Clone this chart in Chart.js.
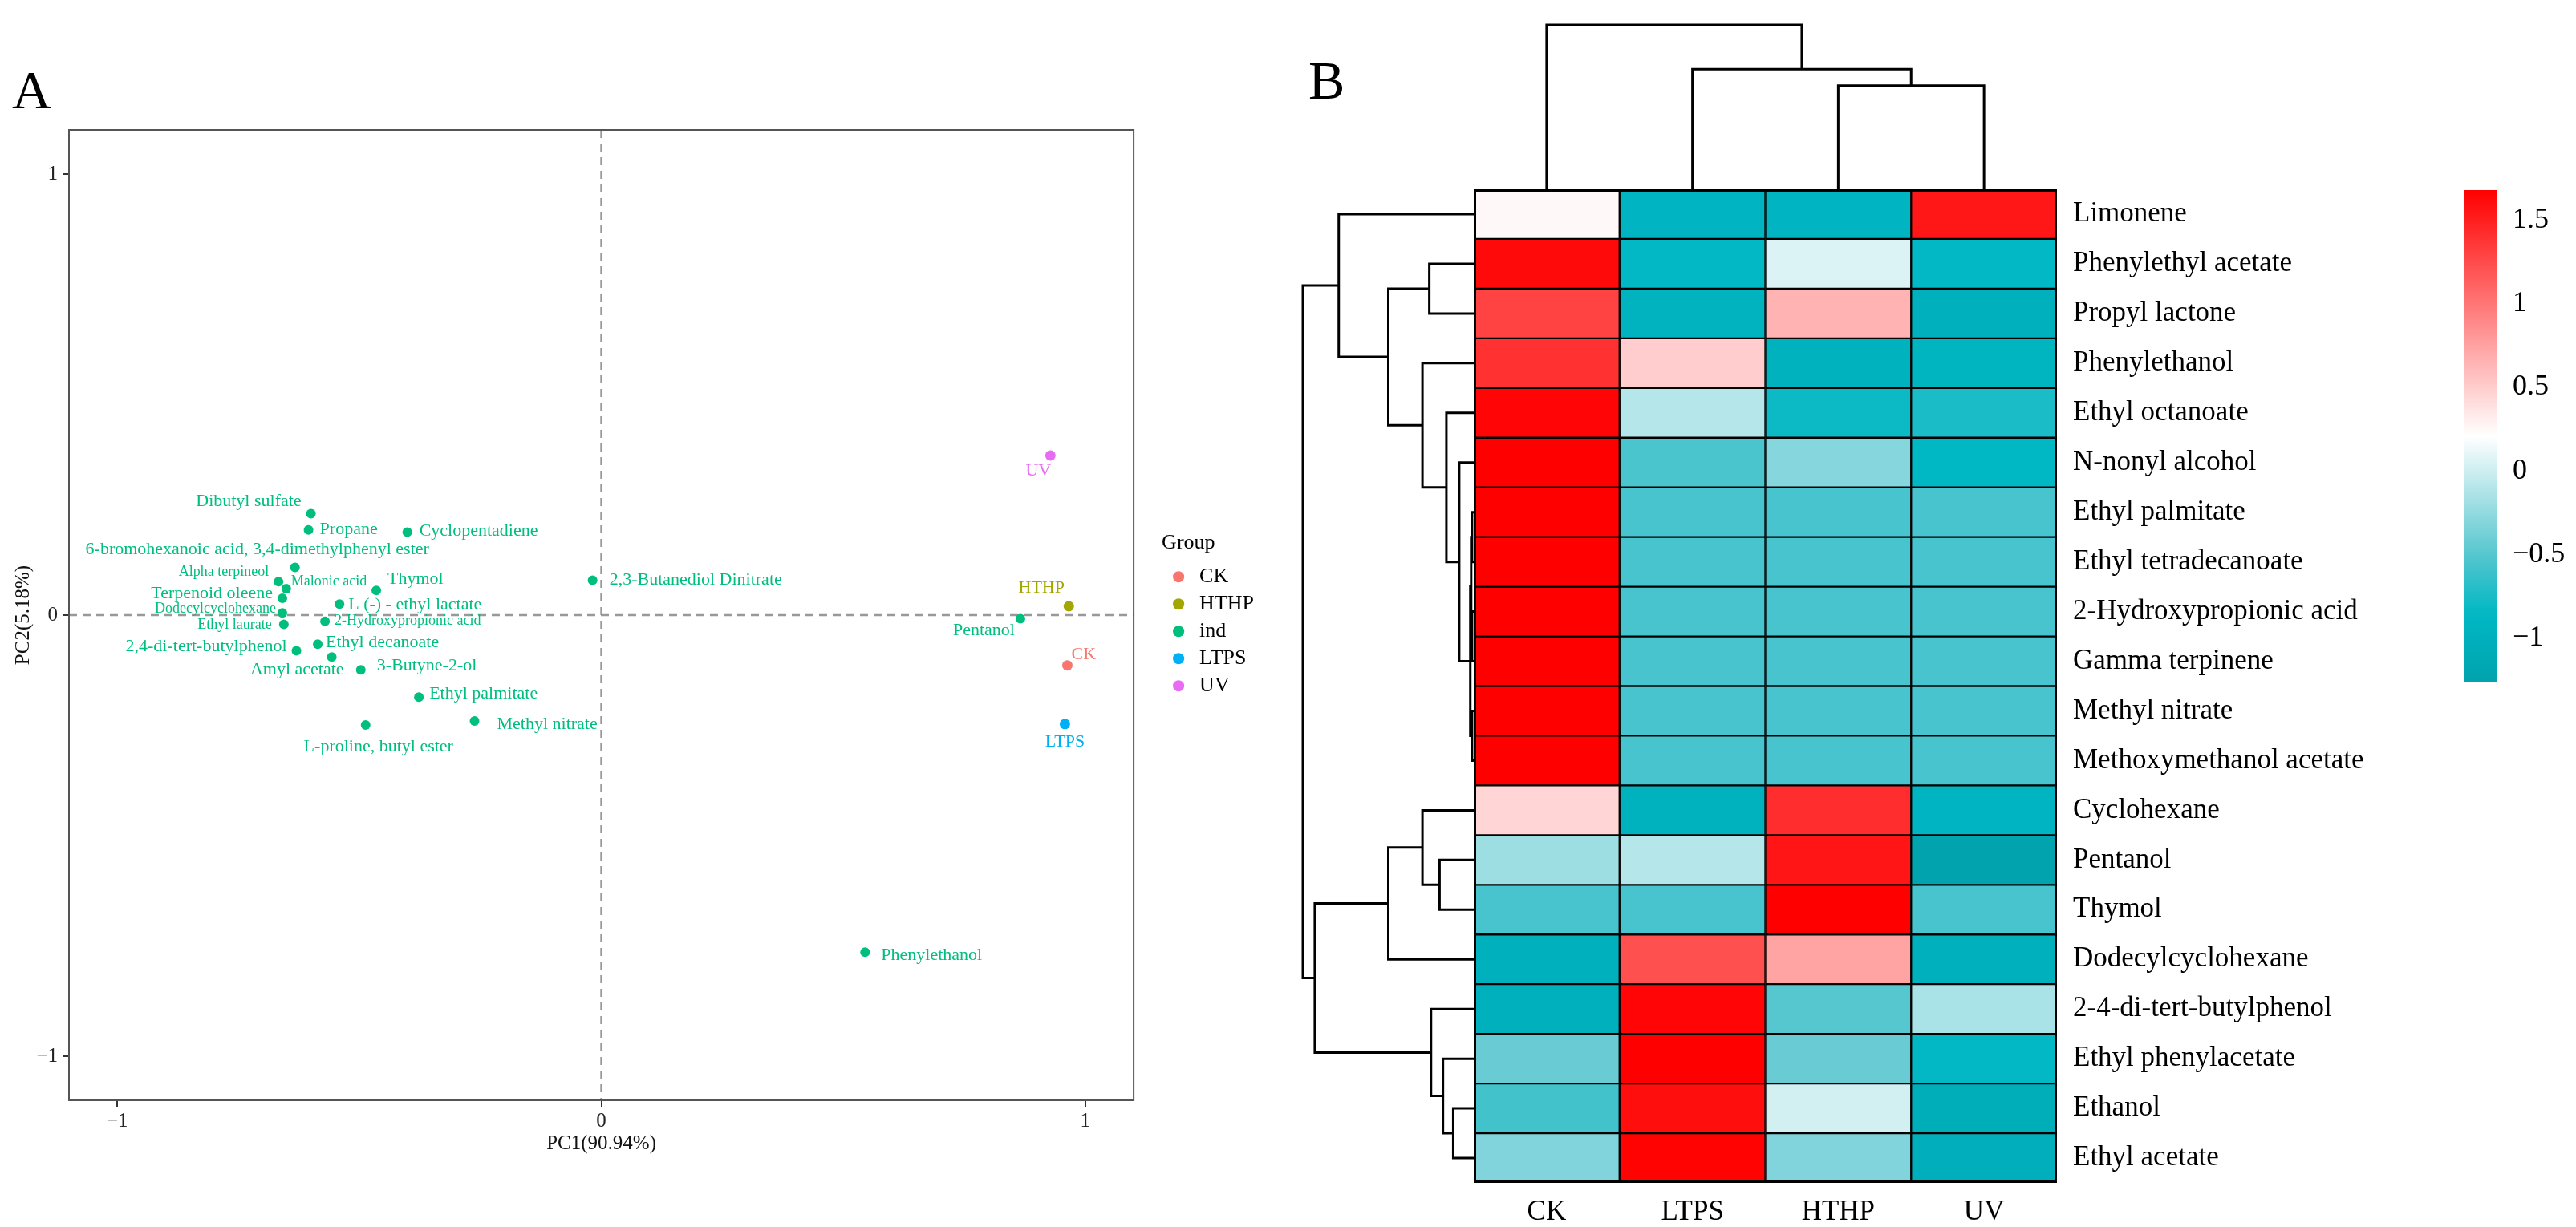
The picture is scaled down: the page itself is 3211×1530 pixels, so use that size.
<!DOCTYPE html>
<html>
<head>
<meta charset="utf-8">
<script src="https://cdn.jsdelivr.net/npm/chart.js@4.4.1/dist/chart.umd.min.js"></script>
<style>
  body { margin: 0; background: #fff; width: 3211px; height: 1530px; position: relative; overflow: hidden;
         font-family: 'Liberation Serif', 'Times New Roman', serif; }
  canvas { position: absolute; }
  .tag { position: absolute; font-size: 68px; line-height: 68px; color: #000; }
</style>
</head>
<body>
<div class="tag" style="left:15px; top:78px;">A</div>
<div class="tag" style="left:1631px; top:66px;">B</div>
<canvas id="pca" width="1600" height="1530" style="left:0; top:0;"></canvas>
<canvas id="rowDendro" width="223" height="1239" style="left:1614px; top:236px;"></canvas>
<canvas id="colDendro" width="727" height="215" style="left:1837px; top:21px;"></canvas>
<canvas id="heat" width="1127" height="1339" style="left:1837px; top:191px;"></canvas>
<canvas id="scaleBar" width="140" height="703" style="left:3072px; top:192px;"></canvas>
<script>
const serif = "'Liberation Serif', 'Times New Roman', serif";

// ---------- panel A : PCA ----------
const indNames = ['Dibutyl sulfate', 'Propane', 'Cyclopentadiene', '6-bromohexanoic acid, 3,4-dimethylphenyl ester',
  'Alpha terpineol', 'Malonic acid', 'Terpenoid oleene', 'Dodecylcyclohexane', 'Ethyl laurate', 'Thymol',
  'L (-) - ethyl lactate', '2-Hydroxypropionic acid', 'Ethyl decanoate', '2,4-di-tert-butylphenol', 'Amyl acetate',
  '3-Butyne-2-ol', 'Ethyl palmitate', 'L-proline, butyl ester', 'Methyl nitrate', '2,3-Butanediol Dinitrate',
  'Pentanol', 'Phenylethanol'];
const indPC1 = [-0.600, -0.605, -0.401, -0.633, -0.667, -0.651, -0.659, -0.659, -0.656, -0.465,
  -0.541, -0.571, -0.586, -0.630, -0.557, -0.497, -0.377, -0.487, -0.262, -0.018, 0.866, 0.545];
const indPC2 = [0.230, 0.193, 0.188, 0.108, 0.076, 0.060, 0.038, 0.005, -0.021, 0.056,
  0.025, -0.014, -0.066, -0.081, -0.095, -0.124, -0.186, -0.249, -0.240, 0.079, -0.008, -0.764];
const groupNames = ['CK', 'HTHP', 'LTPS', 'UV'];
const groupPC1 = [0.963, 0.966, 0.958, 0.928];
const groupPC2 = [-0.114, 0.020, -0.247, 0.362];
const pcaTicks = [-1, 0, 1];

// ---------- panel B : heatmap ----------
const rowNames = ['Limonene', 'Phenylethyl acetate', 'Propyl lactone', 'Phenylethanol', 'Ethyl octanoate',
  'N-nonyl alcohol', 'Ethyl palmitate', 'Ethyl tetradecanoate', '2-Hydroxypropionic acid', 'Gamma terpinene',
  'Methyl nitrate', 'Methoxymethanol acetate', 'Cyclohexane', 'Pentanol', 'Thymol', 'Dodecylcyclohexane',
  '2-4-di-tert-butylphenol', 'Ethyl phenylacetate', 'Ethanol', 'Ethyl acetate'];
const colNames = ['CK', 'LTPS', 'HTHP', 'UV'];
const zCK   = [0.25, 1.62, 1.30, 1.40, 1.65, 1.70, 1.68, 1.68, 1.68, 1.68, 1.68, 1.68, 0.45, -0.20, -0.56, -0.98, -1.00, -0.42, -0.58, -0.32];
const zLTPS = [-0.90, -0.84, -0.95, 0.50, -0.10, -0.55, -0.56, -0.56, -0.56, -0.56, -0.56, -0.56, -0.97, -0.10, -0.56, 1.22, 1.65, 1.68, 1.60, 1.66];
const zHTHP = [-0.90, 0.06, 0.65, -0.97, -0.80, -0.30, -0.56, -0.56, -0.56, -0.56, -0.56, -0.56, 1.42, 1.56, 1.68, 0.74, -0.50, -0.42, 0.02, -0.32];
const zUV   = [1.55, -0.84, -1.00, -0.93, -0.75, -0.85, -0.56, -0.56, -0.56, -0.56, -0.56, -0.56, -0.90, -1.26, -0.56, -0.98, -0.15, -0.84, -1.04, -1.02];
const scaleTicks = [-1, -0.5, 0, 0.5, 1, 1.5];
const zLow = -1.26, zHigh = 1.68;
// dendrograms: [left, right, height], leaves are row / column indices
const rowTree = [
  [0, [[1, 2, 0.26], [3, [4, [5, [[[6, 7, 0.01], [8, 9, 0.01], 0.015], [10, 11, 0.01], 0.02], 0.085], 0.16], 0.30], 0.50], 0.79],
  [[[12, [13, 14, 0.20], 0.30], 15, 0.5], [16, [17, [18, 19, 0.12], 0.18], 0.25], 0.93],
  1.0];
const colTree = [0, [1, [2, 3, 0.63], 0.73], 1.0];

// colour ramp of the key (value stops and rgb)
const rampStops = [-1.26, -0.85, -0.5, 0.21, 1.68];
const rampRGB = [[0, 163, 174], [0, 184, 196], [86, 198, 207], [255, 255, 255], [255, 0, 0]];

// label placement, px from the point
const indLabelDx = [-12, 14, 15, -47, -12, 6, -12, -8, -15, 14, 11, 12, 10, -12, 15, 20, 13, 16, 28, 21, -7, 20];
const indLabelDy = [-15, -1, -1, -22, -12, -9, -6, -5, 1, -14, 1, 0, -2, -5, 16, -5, -4, 27, 4, 0, 15, 4];
const indLabelAlign = ['right', 'left', 'left', 'center', 'right', 'left', 'right', 'right', 'right', 'left', 'left',
  'left', 'left', 'right', 'right', 'left', 'left', 'center', 'left', 'left', 'right', 'left'];
const indLabelSize = [22, 22, 22, 22, 18, 18, 22, 18, 18, 22, 22, 18, 22, 22, 22, 22, 22, 22, 22, 22, 22, 22];
const groupLabelDx = [5, -34, 0, -15];
const groupLabelDy = [-13, -23, 22, 19];
const groupLabelAlign = ['left', 'center', 'center', 'center'];

const colors = { CK: '#F8766D', HTHP: '#A3A500', ind: '#00BF7D', LTPS: '#00B0F6', UV: '#E76BF3' };

function groupSet(name) {
  const i = groupNames.indexOf(name);
  return {
    label: name, data: [{ x: groupPC1[i], y: groupPC2[i] }], names: [name],
    dx: [groupLabelDx[i]], dy: [groupLabelDy[i]], align: [groupLabelAlign[i]], size: [22],
    backgroundColor: colors[name], borderWidth: 0, pointRadius: 6.5
  };
}

const indSet = {
  label: 'ind', data: indPC1.map((x, i) => ({ x, y: indPC2[i] })), names: indNames,
  dx: indLabelDx, dy: indLabelDy, align: indLabelAlign, size: indLabelSize,
  backgroundColor: colors.ind, borderWidth: 0, pointRadius: 6
};

const pointLabels = {
  id: 'pointLabels',
  afterDatasetsDraw(chart) {
    const ctx = chart.ctx;
    chart.data.datasets.forEach((ds, di) => {
      chart.getDatasetMeta(di).data.forEach((pt, i) => {
        ctx.save();
        ctx.font = ds.size[i] + 'px ' + serif;
        ctx.fillStyle = ds.backgroundColor;
        ctx.textAlign = ds.align[i];
        ctx.textBaseline = 'middle';
        ctx.fillText(ds.names[i], pt.x + ds.dx[i], pt.y + ds.dy[i]);
        ctx.restore();
      });
    });
  }
};

const frame = {
  id: 'frame',
  beforeDatasetsDraw(chart) {
    const { ctx, chartArea: a, scales: { x, y } } = chart;
    ctx.save();
    ctx.strokeStyle = '#999';
    ctx.lineWidth = 2.5;
    ctx.setLineDash([10, 7]);
    ctx.beginPath();
    ctx.moveTo(x.getPixelForValue(0), a.top); ctx.lineTo(x.getPixelForValue(0), a.bottom);
    ctx.moveTo(a.left, y.getPixelForValue(0)); ctx.lineTo(a.right, y.getPixelForValue(0));
    ctx.stroke();
    ctx.restore();
  },
  afterDraw(chart) {
    const { ctx, chartArea: a } = chart;
    ctx.save();
    ctx.strokeStyle = '#555';
    ctx.lineWidth = 2;
    ctx.strokeRect(a.left, a.top, a.right - a.left, a.bottom - a.top);
    ctx.restore();
  }
};

const axisFont = { family: serif, size: 25 };
const minusFmt = v => v < 0 ? '\u2212' + Math.abs(v) : String(v);

new Chart(document.getElementById('pca'), {
  type: 'scatter',
  data: { datasets: [groupSet('CK'), groupSet('HTHP'), indSet, groupSet('LTPS'), groupSet('UV')] },
  options: {
    responsive: false, animation: false,
    layout: { padding: { top: 162, bottom: 89, left: 0, right: 27 } },
    plugins: {
      tooltip: { enabled: false },
      legend: {
        position: 'right', align: 'start',
        title: { display: true, text: 'Group', position: 'start', color: '#000', font: { family: serif, size: 26 },
                 padding: { top: 502, bottom: 3 } },
        labels: { usePointStyle: true, pointStyle: 'circle', boxWidth: 26, boxHeight: 10, padding: 8, color: '#000',
                  font: { family: serif, size: 26 } }
      }
    },
    scales: {
      x: {
        min: -1.1, max: 1.1,
        afterBuildTicks: s => { s.ticks = pcaTicks.map(v => ({ value: v })); },
        afterFit: s => { s.height = 69; },
        grid: { drawOnChartArea: false, tickLength: 8, color: '#333', lineWidth: 2 },
        border: { display: false },
        ticks: { color: '#222', font: axisFont, padding: 3, callback: minusFmt },
        title: { display: true, text: 'PC1(90.94%)', color: '#111', font: axisFont, padding: { top: 0, bottom: 0 } }
      },
      y: {
        min: -1.1, max: 1.1,
        afterBuildTicks: s => { s.ticks = pcaTicks.map(v => ({ value: v })); },
        afterFit: s => { s.width = 86; },
        grid: { drawOnChartArea: false, tickLength: 8, color: '#333', lineWidth: 2 },
        border: { display: false },
        ticks: { color: '#222', font: axisFont, padding: 6, callback: minusFmt },
        title: { display: true, text: 'PC2(5.18%)', color: '#111', font: axisFont, padding: { top: 14, bottom: 0 } }
      },
      // empty spacer between the panel and the legend
      gap: {
        type: 'linear', axis: 'y', position: 'right',
        grid: { display: false, drawTicks: false }, border: { display: false }, ticks: { display: false },
        afterFit: s => { s.width = 35; }
      }
    }
  },
  plugins: [frame, pointLabels]
});

// ---------- heatmap ----------
function zColor(v) {
  let k = 0;
  while (k < rampStops.length - 2 && v > rampStops[k + 1]) k++;
  const t = Math.max(0, Math.min(1, (v - rampStops[k]) / (rampStops[k + 1] - rampStops[k])));
  const a = rampRGB[k], b = rampRGB[k + 1];
  const c = a.map((ai, j) => Math.round(ai + (b[j] - ai) * t));
  return `rgb(${c[0]},${c[1]},${c[2]})`;
}

const zCols = [zCK, zLTPS, zHTHP, zUV];
const heatW = 727, heatH = 1239, heatPadTop = 45;
const labelFont = { family: serif, size: 35 };

const heatFrame = {
  id: 'heatFrame',
  afterDatasetsDraw(chart) {
    const { ctx, chartArea: a } = chart;
    ctx.save();
    ctx.strokeStyle = '#000';
    ctx.lineWidth = 3;
    ctx.strokeRect(a.left + 1.5, a.top + 1.5, a.right - a.left - 3, a.bottom - a.top - 3);
    ctx.restore();
  }
};

new Chart(document.getElementById('heat'), {
  type: 'bar',
  data: {
    labels: rowNames,
    datasets: colNames.map((c, j) => ({
      label: c,
      data: rowNames.map(() => [j, j + 1]),
      backgroundColor: zCols[j].map(zColor),
      borderColor: '#000', borderWidth: 1.5, borderSkipped: false,
      barPercentage: 1, categoryPercentage: 1, grouped: false
    }))
  },
  options: {
    indexAxis: 'y', responsive: false, animation: false,
    layout: { padding: { top: heatPadTop, left: 0, right: 0, bottom: 0 } },
    plugins: { legend: { display: false }, tooltip: { enabled: false } },
    scales: {
      x: {
        type: 'linear', min: 0, max: 4, position: 'bottom',
        afterBuildTicks: s => { s.ticks = colNames.map((c, j) => ({ value: j + 0.5 })); },
        afterFit: s => { s.height = 1339 - heatPadTop - heatH; },
        grid: { display: false, drawTicks: false }, border: { display: false },
        ticks: { font: labelFont, color: '#000', padding: 16, callback: (v, i) => colNames[i] }
      },
      y: {
        position: 'right',
        afterFit: s => { s.width = 1127 - heatW; },
        grid: { display: false, drawTicks: false }, border: { display: false },
        ticks: { font: labelFont, color: '#000', padding: 20 }
      }
    }
  },
  plugins: [heatFrame]
});

// ---------- dendrograms ----------
function treeSegments(node, segs) {
  if (typeof node === 'number') return { p: node + 0.5, h: 0 };
  const a = treeSegments(node[0], segs), b = treeSegments(node[1], segs), h = node[2];
  segs.push([[a.h, a.p], [h, a.p], [h, b.p], [b.h, b.p]]);
  return { p: (a.p + b.p) / 2, h };
}

function dendro(id, tree, horizontal, nLeaves, padding) {
  const segs = [];
  treeSegments(tree, segs);
  const hScale = { type: 'linear', min: 0, max: 1, display: false, reverse: horizontal };
  const pScale = { type: 'linear', min: 0, max: nLeaves, display: false, reverse: horizontal };
  new Chart(document.getElementById(id), {
    type: 'scatter',
    data: {
      datasets: segs.map(s => ({
        data: s.map(([h, p]) => horizontal ? { x: h, y: p } : { x: p, y: h }),
        showLine: true, borderColor: '#000', borderWidth: 3, pointRadius: 0, clip: false
      }))
    },
    options: {
      responsive: false, animation: false,
      layout: { padding },
      plugins: { legend: { display: false }, tooltip: { enabled: false } },
      scales: horizontal ? { x: hScale, y: pScale } : { x: pScale, y: hScale }
    }
  });
}

dendro('rowDendro', rowTree, true, rowNames.length, { left: 10, right: 0, top: 0, bottom: 0 });
dendro('colDendro', colTree, false, colNames.length, { left: 0, right: 0, top: 10, bottom: 0 });

// ---------- colour key ----------
new Chart(document.getElementById('scaleBar'), {
  type: 'bar',
  data: {
    labels: [''],
    datasets: [{
      data: [[zLow, zHigh]],
      barPercentage: 1, categoryPercentage: 1, borderWidth: 0,
      backgroundColor: ctx => {
        const chart = ctx.chart, ys = chart.scales.y;
        if (!chart.chartArea || !ys) return '#fff';
        const y0 = ys.getPixelForValue(zLow), y1 = ys.getPixelForValue(zHigh);
        const g = chart.ctx.createLinearGradient(0, y0, 0, y1);
        for (let i = 0; i <= 40; i++) {
          const v = zLow + (zHigh - zLow) * i / 40;
          g.addColorStop(i / 40, zColor(v));
        }
        return g;
      }
    }]
  },
  options: {
    responsive: false, animation: false,
    layout: { padding: { top: 45, bottom: 45, left: 0, right: 0 } },
    plugins: { legend: { display: false }, tooltip: { enabled: false } },
    scales: {
      x: { display: false },
      y: {
        position: 'right', min: zLow, max: zHigh,
        afterBuildTicks: s => { s.ticks = scaleTicks.map(v => ({ value: v })); },
        afterFit: s => { s.width = 100; },
        grid: { display: false, drawTicks: false }, border: { display: false },
        ticks: { font: { family: serif, size: 36 }, color: '#000', padding: 20, callback: minusFmt }
      }
    }
  }
});
</script>
</body>
</html>
